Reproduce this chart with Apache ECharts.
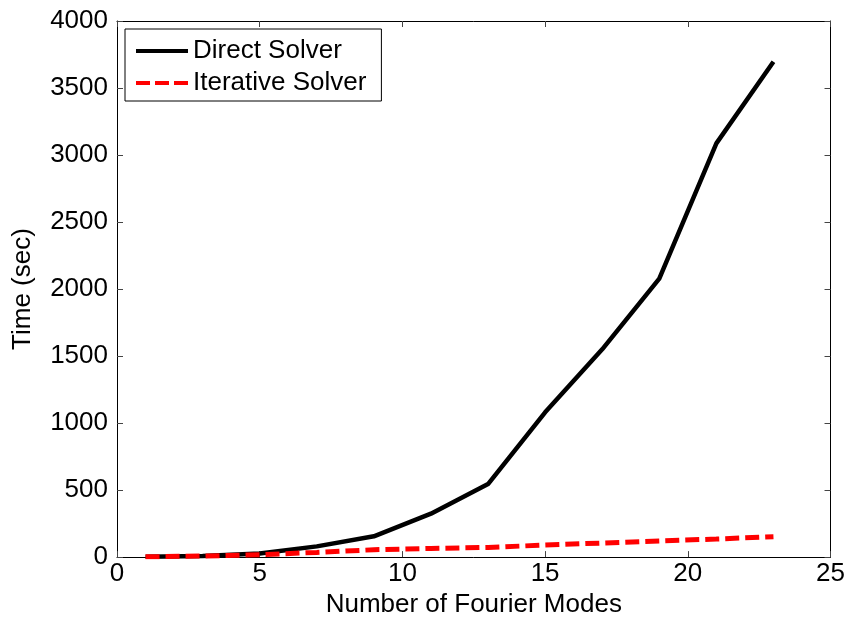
<!DOCTYPE html>
<html><head><meta charset="utf-8">
<script src="https://cdn.jsdelivr.net/npm/echarts@6/dist/echarts.min.js"></script>
<style>html,body{margin:0;padding:0;background:#fff}#c{width:848px;height:623px}</style>
</head><body><div id="c"></div>
<script>
const modes = [1, 3, 5, 7, 9, 11, 13, 15, 17, 19, 21, 23];
const directSolver = [2, 8, 27, 80, 155, 324, 545, 1080, 1550, 2078, 3087, 3696];
const iterativeSolver = [2, 8, 18, 35, 55, 65, 72, 90, 105, 120, 135, 152];
const xTicks = [0, 5, 10, 15, 20, 25];
const yTicks = [0, 500, 1000, 1500, 2000, 2500, 3000, 3500, 4000];

const font = 'Liberation Sans, Arial, sans-serif';
const fs = 26;
const chart = echarts.init(document.getElementById('c'));
const axisCommon = {
  axisLine: {show: true, onZero: false, lineStyle: {color: '#000', width: 1}},
  axisTick: {show: true, inside: true, length: 6, lineStyle: {color: '#444'}},
  splitLine: {show: false}
};
const plain = v => String(v);
chart.setOption({
  animation: false,
  backgroundColor: '#fff',
  textStyle: {fontFamily: font},
  grid: {left: 117, right: 16, top: 21, bottom: 62, containLabel: false},
  legend: {
    orient: 'vertical', left: 125, top: 29,
    padding: [9, 15, 5, 11],
    itemGap: 6, itemWidth: 52, itemHeight: 4,
    borderColor: '#000', borderWidth: 1, backgroundColor: '#fff', borderRadius: 0,
    textStyle: {fontFamily: font, fontSize: fs, color: '#000', lineHeight: 26, padding: [0, 0, 0, 0]},
    data: [
      {name: 'Direct Solver', icon: 'path://M0,0h52v4h-52z'},
      {name: 'Iterative Solver', icon: 'path://M0,0h14v4h-14z M19,0h14v4h-14z M38,0h14v4h-14z'}
    ]
  },
  xAxis: [
    Object.assign({type: 'value', min: xTicks[0], max: xTicks[xTicks.length-1], interval: 5, position: 'bottom',
      name: 'Number of Fourier Modes', nameLocation: 'middle', nameGap: 32,
      nameTextStyle: {fontFamily: font, fontSize: fs, color: '#000'},
      axisLabel: {fontFamily: font, fontSize: fs, color: '#000', margin: 4, formatter: plain}}, axisCommon),
    Object.assign({type: 'value', min: xTicks[0], max: xTicks[xTicks.length-1], interval: 5, position: 'top',
      axisLabel: {show: false}}, axisCommon)
  ],
  yAxis: [
    Object.assign({type: 'value', min: yTicks[0], max: yTicks[yTicks.length-1], interval: 500, position: 'left',
      name: 'Time (sec)', nameLocation: 'middle', nameGap: 81, nameRotate: 90,
      nameTextStyle: {fontFamily: font, fontSize: fs, color: '#000'},
      axisLabel: {fontFamily: font, fontSize: fs, color: '#000', margin: 9, formatter: plain}}, axisCommon),
    Object.assign({type: 'value', min: yTicks[0], max: yTicks[yTicks.length-1], interval: 500, position: 'right',
      axisLabel: {show: false}}, axisCommon)
  ],
  series: [
    {name: 'Direct Solver', type: 'line', symbol: 'none', z: 3,
     data: modes.map((m, i) => [m, directSolver[i]]),
     itemStyle: {color: '#000'},
     lineStyle: {color: '#000', width: 4.5}},
    {name: 'Iterative Solver', type: 'line', symbol: 'none', z: 4,
     data: modes.map((m, i) => [m, iterativeSolver[i]]),
     itemStyle: {color: '#ff0000'},
     lineStyle: {color: '#ff0000', width: 5, type: [14, 6]}}
  ]
});
</script></body></html>
